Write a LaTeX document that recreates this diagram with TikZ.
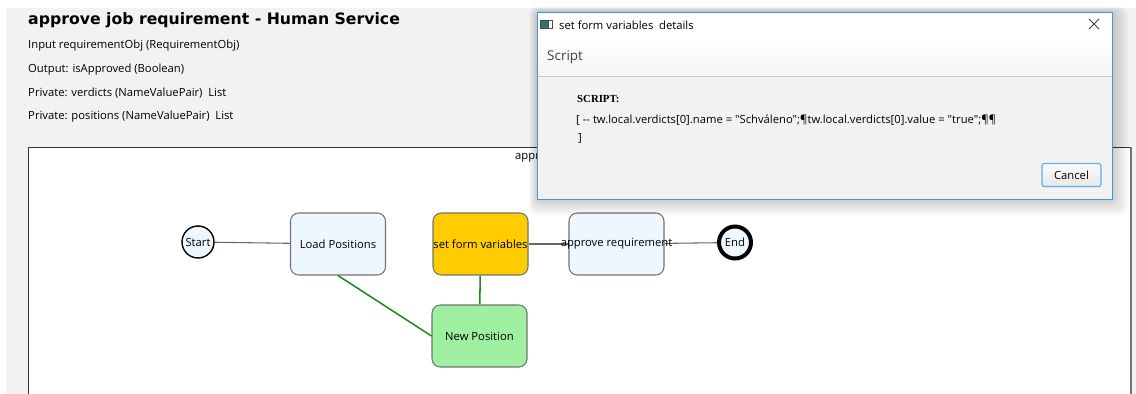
\documentclass[tikz,border=0pt]{standalone}
\usepackage{fontspec}
\setmainfont{Open Sans}[Ligatures=TeXOff]
\newfontfamily\titlefont{DejaVu Sans}
\newfontfamily\seriffont{Liberation Serif}

\definecolor{panelgray}{HTML}{F2F2F2}
\definecolor{taskblue}{HTML}{EEF6FE}
\definecolor{formgold}{HTML}{FFCC00}
\definecolor{newgreen}{HTML}{9EF0A0}
\definecolor{linkgreen}{HTML}{1A8C1A}
\definecolor{winblue}{HTML}{3C9AD8}
\def\uifont{\fontsize{9.6pt}{11pt}\selectfont}

\tikzset{
  task/.style={draw=black!55, line width=0.9pt, rounded corners=7pt,
    minimum width=2.85cm, minimum height=1.86cm},
  event/.style={circle, draw=black, fill=taskblue, minimum size=0.96cm,
    inner sep=0pt, font=\uifont},
  plainlink/.style={draw=black!60, line width=0.9pt},
  greenlink/.style={draw=linkgreen, line width=1.3pt},
  infotext/.style={anchor=west, inner sep=0pt, font=\uifont},
}

\begin{document}
\begin{tikzpicture}[x={(0.03cm,0)}, y={(0,-0.03cm)}]
	%%%%% START %%%%%
	\useasboundingbox (0,0) rectangle (1136,394);
	\fill[panelgray] (6,8) rectangle (1136,394);
	
	% header with the variables
	\node[infotext, font=\titlefont\bfseries\fontsize{13.4pt}{15pt}\selectfont] (title) at (28,20) {approve job requirement - Human Service};
	\node[infotext] (input) at (28,46) {Input requirementObj (RequirementObj)};
	\node[infotext] (output) at (28,70) {Output: isApproved (Boolean)};
	\node[infotext] (verdicts) at (28,93) {Private: verdicts (NameValuePair)~ List};
	\node[infotext] (positions) at (28,117) {Private: positions (NameValuePair)~ List};
	
	% diagram frame
	\fill[white] (28,147) rectangle (1131,394);
	\draw[black!80, line width=0.8pt] (28,394) -- (28,147) -- (1131,147);
	\draw[black!55, line width=1.6pt] (1131,147) -- (1131,394);
	\node[infotext] (frametitle) at (515,157) {approve job requirement};
	
	% boxes first, texts on top of the links
	\node[task, fill=taskblue] (load) at (338,244) {};
	\node[task, fill=formgold] (setform) at (480.5,244) {};
	\node[task, fill=taskblue] (approve) at (616.5,244) {};
	\node[task, fill=newgreen] (newpos) at (479.5,336) {};
	\node[event, line width=1.2pt] (start) at (198,242) {Start};
	\node[event, line width=3.4pt] (end) at (735,242.5) {End};
	
	\draw[plainlink] (start) -- (load);
	\draw[plainlink] (setform) -- (approve);
	\draw[plainlink] (approve) -- (end);
	\draw[greenlink] (load.south) -- (newpos.west);
	\draw[greenlink] (setform) -- (newpos);
	
	\node[font=\uifont] (loadtext) at (load) {Load Positions};
	\node[font=\uifont] (settext) at (setform) {set form variables};
	\node[font=\uifont] (approvetext) at (approve) {approve requirement};
	\node[font=\uifont] (newtext) at (newpos) {New Position};
	
	% details window, soft shadow under it
	\foreach \s in {2,4,...,16}
		\fill[black, opacity=0.025, rounded corners=6pt] (537-\s/2,12-\s/3) rectangle (1112+\s,199+\s);
	\fill[panelgray] (537,12) rectangle (1112,199);
	\fill[white] (537,12) rectangle (1112,37);
	\shade[top color=white, bottom color=black!4] (537,37) rectangle (1112,76);
	\draw[black!22] (537,76) -- (1112,76);
	\draw[winblue, line width=0.8pt] (537,12) rectangle (1112,199);
	
	\fill[black!70] (540,20) rectangle (553,29);
	\fill[teal!60!black!80] (541,21) rectangle (548,28);
	\fill[white] (549,21) rectangle (552,28);
	\node[infotext] (wintitle) at (559,25) {set form variables~ details};
	\draw[black!75, line width=0.7pt] (1089,19) -- (1099,29) (1089,29) -- (1099,19);
	
	\node[infotext, font=\fontsize{11.5pt}{13pt}\selectfont, text=black!75] (tabname) at (547,57) {Script};
	\node[infotext, font=\seriffont\bfseries\fontsize{9.2pt}{10pt}\selectfont] (scriptlabel) at (577,99) {SCRIPT:};
	\node[infotext] (scriptline) at (576,120) {[ -- tw.local.verdicts[0].name = "Schváleno";¶tw.local.verdicts[0].value = "true";¶¶};
	\node[infotext] (scriptend) at (578,138) {]};
	
	\node[draw=winblue!80, line width=0.9pt, rounded corners=2pt, top color=black!2, bottom color=black!9,
	  minimum width=1.77cm, minimum height=0.69cm, font=\uifont] (cancel) at (1071.5,175) {Cancel};
	%%%%% END %%%%%
\end{tikzpicture}
\end{document}
